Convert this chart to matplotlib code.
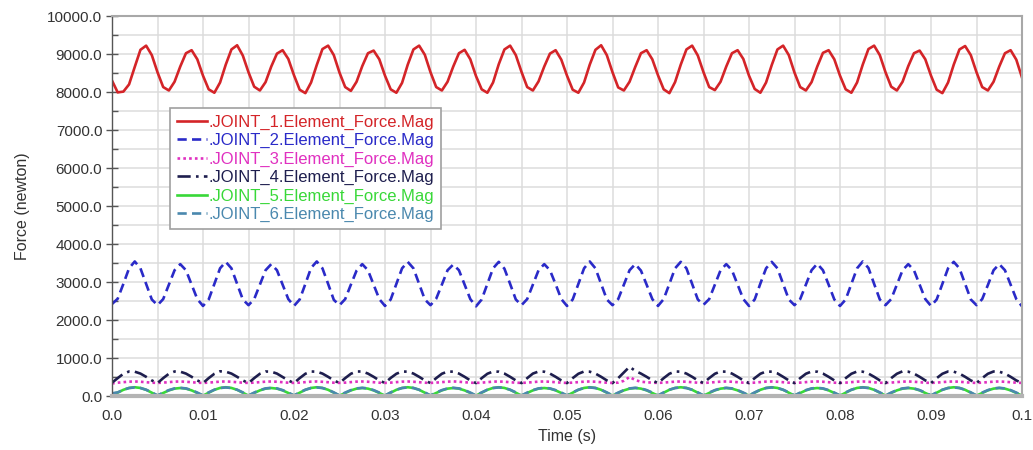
import numpy as np
import matplotlib.pyplot as plt
from matplotlib.ticker import MultipleLocator, FormatStrFormatter

plt.rcParams['font.family'] = ['Liberation Sans', 'DejaVu Sans']

# -------------------------------------------------------------
# Data read off the plot (sampled every 0.000625 s, 0 .. 0.1 s)
# -------------------------------------------------------------
joint_1 = [
    8300, 7990, 8010, 8200, 8660, 9110, 9220, 8970, 8520, 8130, 8040, 8270, 8670, 9020, 9100, 8860,
    8430, 8070, 7980, 8250, 8720, 9120, 9230, 8960, 8520, 8140, 8040, 8260, 8670, 9010, 9100, 8870,
    8440, 8060, 7970, 8250, 8710, 9130, 9220, 8970, 8510, 8130, 8030, 8270, 8680, 9020, 9090, 8860,
    8430, 8070, 7980, 8240, 8720, 9120, 9220, 8980, 8520, 8130, 8040, 8270, 8670, 9020, 9110, 8860,
    8420, 8070, 7980, 8250, 8730, 9120, 9220, 8970, 8530, 8130, 8040, 8280, 8670, 9010, 9100, 8850,
    8430, 8060, 7980, 8250, 8720, 9110, 9230, 8970, 8520, 8120, 8040, 8270, 8660, 9020, 9100, 8860,
    8440, 8070, 7970, 8260, 8720, 9120, 9220, 8960, 8520, 8130, 8050, 8270, 8670, 9020, 9100, 8870,
    8430, 8080, 7980, 8250, 8710, 9120, 9220, 8970, 8510, 8130, 8040, 8260, 8670, 9030, 9100, 8860,
    8430, 8070, 7980, 8250, 8720, 9130, 9220, 8970, 8520, 8140, 8040, 8270, 8680, 9020, 9090, 8860,
    8430, 8060, 7970, 8250, 8720, 9120, 9210, 8970, 8520, 8130, 8040, 8270, 8670, 9020, 9100, 8850,
    8380,
]
joint_2 = [
    2420, 2560, 2950, 3360, 3540, 3360, 2950, 2540, 2390, 2550, 2930, 3310, 3470, 3310, 2930, 2550,
    2370, 2540, 2950, 3360, 3530, 3360, 2950, 2540, 2390, 2550, 2930, 3310, 3470, 3310, 2930, 2550,
    2370, 2540, 2950, 3370, 3540, 3360, 2950, 2530, 2390, 2550, 2930, 3300, 3470, 3310, 2930, 2550,
    2370, 2540, 2950, 3360, 3530, 3360, 2950, 2540, 2390, 2560, 2930, 3310, 3460, 3310, 2930, 2550,
    2360, 2540, 2950, 3360, 3530, 3350, 2950, 2540, 2390, 2550, 2930, 3310, 3470, 3310, 2940, 2550,
    2370, 2540, 2950, 3360, 3540, 3360, 2950, 2540, 2390, 2550, 2930, 3310, 3470, 3300, 2930, 2550,
    2370, 2550, 2950, 3360, 3530, 3360, 2950, 2540, 2400, 2550, 2930, 3310, 3470, 3310, 2930, 2550,
    2370, 2540, 2960, 3360, 3530, 3360, 2950, 2540, 2390, 2550, 2930, 3310, 3480, 3310, 2930, 2540,
    2370, 2540, 2950, 3360, 3540, 3370, 2950, 2540, 2390, 2550, 2930, 3310, 3470, 3310, 2930, 2550,
    2370, 2540, 2950, 3360, 3530, 3360, 2950, 2540, 2390, 2550, 2920, 3310, 3470, 3310, 2930, 2550,
    2360,
]
joint_3 = [
    330, 350, 365, 378, 382, 375, 362, 350, 345, 352, 365, 378, 382, 375, 362, 350,
    345, 352, 364, 378, 383, 375, 362, 350, 345, 352, 365, 377, 382, 375, 362, 350,
    345, 352, 365, 378, 382, 374, 362, 350, 346, 352, 365, 378, 382, 375, 363, 350,
    345, 352, 365, 378, 382, 375, 362, 350, 345, 352, 365, 378, 384, 375, 362, 350,
    345, 351, 365, 378, 382, 375, 362, 350, 345, 352, 365, 378, 382, 375, 362, 350,
    345, 352, 365, 378, 382, 376, 362, 350, 345, 352, 400, 500, 420, 375, 362, 350,
    345, 352, 365, 378, 382, 375, 362, 350, 345, 352, 365, 378, 382, 375, 362, 351,
    345, 352, 365, 379, 382, 375, 362, 350, 345, 352, 365, 378, 382, 375, 362, 350,
    345, 352, 365, 378, 382, 375, 361, 350, 345, 353, 365, 378, 382, 375, 362, 350,
    345, 352, 365, 378, 382, 375, 362, 350, 345, 352, 365, 378, 382, 375, 362, 350,
    345,
]
joint_4 = [
    350, 470, 585, 645, 640, 590, 505, 410, 340, 470, 585, 645, 640, 590, 505, 410,
    340, 470, 585, 650, 640, 590, 505, 410, 340, 470, 585, 645, 640, 590, 500, 410,
    340, 470, 585, 645, 640, 590, 505, 410, 340, 470, 585, 645, 645, 590, 505, 410,
    340, 475, 585, 645, 640, 590, 505, 410, 340, 470, 585, 645, 640, 590, 505, 410,
    340, 470, 585, 645, 640, 590, 505, 410, 340, 470, 590, 645, 640, 590, 505, 410,
    340, 470, 585, 645, 640, 590, 505, 410, 340, 470, 620, 770, 660, 590, 505, 410,
    340, 470, 585, 645, 640, 590, 505, 410, 340, 470, 585, 645, 640, 590, 505, 410,
    340, 470, 585, 645, 640, 595, 505, 410, 340, 470, 585, 645, 640, 590, 505, 410,
    340, 470, 585, 645, 640, 590, 505, 410, 340, 470, 585, 650, 640, 590, 505, 410,
    340, 470, 585, 645, 640, 590, 505, 410, 340, 470, 585, 645, 640, 590, 505, 410,
    340,
]
joint_5 = [
    60, 88, 163, 212, 230, 212, 163, 88, 10, 80, 148, 194, 210, 194, 148, 80,
    10, 88, 163, 212, 230, 212, 163, 88, 10, 80, 148, 194, 210, 194, 148, 80,
    10, 88, 163, 212, 230, 212, 163, 88, 10, 80, 148, 194, 210, 194, 148, 80,
    10, 88, 163, 212, 230, 212, 163, 88, 10, 80, 148, 194, 210, 194, 148, 80,
    10, 88, 163, 212, 230, 212, 163, 88, 10, 80, 148, 194, 210, 194, 148, 80,
    10, 88, 163, 212, 230, 212, 163, 88, 10, 80, 148, 194, 210, 194, 148, 80,
    10, 88, 163, 212, 230, 212, 163, 88, 10, 80, 148, 194, 210, 194, 148, 80,
    10, 88, 163, 212, 230, 212, 163, 88, 10, 80, 148, 194, 210, 194, 148, 80,
    10, 88, 163, 212, 230, 212, 163, 88, 10, 80, 148, 194, 210, 194, 148, 80,
    10, 88, 163, 212, 230, 212, 163, 88, 10, 80, 148, 194, 210, 194, 148, 80,
    10,
]
joint_6 = [
    70, 95, 165, 210, 225, 210, 165, 95, 15, 90, 155, 200, 215, 200, 155, 90,
    15, 95, 165, 210, 225, 210, 165, 95, 15, 90, 155, 200, 215, 200, 155, 90,
    15, 95, 165, 210, 225, 210, 165, 95, 15, 90, 155, 200, 215, 200, 155, 90,
    15, 95, 165, 210, 225, 210, 165, 95, 15, 90, 155, 200, 215, 200, 155, 90,
    15, 95, 165, 210, 225, 210, 165, 95, 15, 90, 155, 200, 215, 200, 155, 90,
    15, 95, 165, 210, 225, 210, 165, 95, 15, 90, 155, 200, 215, 200, 155, 90,
    15, 95, 165, 210, 225, 210, 165, 95, 15, 90, 155, 200, 215, 200, 155, 90,
    15, 95, 165, 210, 225, 210, 165, 95, 15, 90, 155, 200, 215, 200, 155, 90,
    15, 95, 165, 210, 225, 210, 165, 95, 15, 90, 155, 200, 215, 200, 155, 90,
    15, 95, 165, 210, 225, 210, 165, 95, 15, 90, 155, 200, 215, 200, 155, 90,
    15,
]

time = np.linspace(0.0, 0.1, len(joint_1))

labels = ['.JOINT_1.Element_Force.Mag', '.JOINT_2.Element_Force.Mag',
          '.JOINT_3.Element_Force.Mag', '.JOINT_4.Element_Force.Mag',
          '.JOINT_5.Element_Force.Mag', '.JOINT_6.Element_Force.Mag']
series = [joint_1, joint_2, joint_3, joint_4, joint_5, joint_6]
colors = ['#d42428', '#2a2ac8', '#e030c0', '#1e1e4e', '#38d838', '#4a88ae']
styles = ['-', (0, (3.5, 2)), (0, (1, 1.2)), (0, (5, 2, 1, 2)), '-', (0, (3.5, 2))]

# -------------------------------------------------------------
# Figure
# -------------------------------------------------------------
fig = plt.figure(figsize=(10.33, 4.5), dpi=100)
ax = fig.add_axes([112/1033, 54/450, 910/1033, 380/450])

for y, lab, c, ls in zip(series, labels, colors, styles):
    ax.plot(time, y, color=c, linestyle=ls, linewidth=1.9, label=lab,
            solid_joinstyle='round', dash_joinstyle='round')

ax.set_xlim(0.0, 0.1)
ax.set_ylim(0.0, 10000.0)

ax.xaxis.set_minor_locator(MultipleLocator(0.005))
ax.yaxis.set_major_locator(MultipleLocator(1000))
ax.yaxis.set_minor_locator(MultipleLocator(500))
ax.yaxis.set_major_formatter(FormatStrFormatter('%.1f'))
ax.set_xticks(np.arange(0, 11) / 100)
ax.set_xticklabels(['0.0'] + ['%g' % v for v in np.arange(1, 11) / 100])

ax.grid(True, which='both', color='#dcdcdc', linewidth=1.1)
ax.set_axisbelow(True)

ax.tick_params(axis='y', which='major', direction='inout', length=8, width=1,
               color='#555555', labelsize=11, labelcolor='#333333', pad=3)
ax.tick_params(axis='y', which='minor', direction='in', length=4, width=1, color='#555555')
ax.tick_params(axis='x', which='both', length=0, labelsize=11, labelcolor='#333333', pad=9)

ax.spines['left'].set_color('#555555')
ax.spines['left'].set_linewidth(1.0)
ax.spines['bottom'].set_color('#b4b4b4')
ax.spines['bottom'].set_linewidth(3.0)
ax.spines['top'].set_color('#a8a8a8')
ax.spines['top'].set_linewidth(1.5)
ax.spines['right'].set_color('#a8a8a8')
ax.spines['right'].set_linewidth(1.5)

ax.set_xlabel('Time (s)', fontsize=11.5, color='#333333', labelpad=5)
ax.set_ylabel('Force (newton)', fontsize=11.5, color='#333333', labelpad=12)

leg = ax.legend(loc='upper left', bbox_to_anchor=(170/1033, 1 - 108/450),
                bbox_transform=fig.transFigure, borderaxespad=0, fontsize=12,
                labelspacing=0.2, handlelength=1.8, handletextpad=0.1,
                borderpad=0.4, fancybox=False, framealpha=1, edgecolor='#a0a0a0')
leg.get_frame().set_linewidth(1.2)
for txt, c in zip(leg.get_texts(), colors):
    txt.set_color(c)

fig.savefig('out.png', dpi=100)
